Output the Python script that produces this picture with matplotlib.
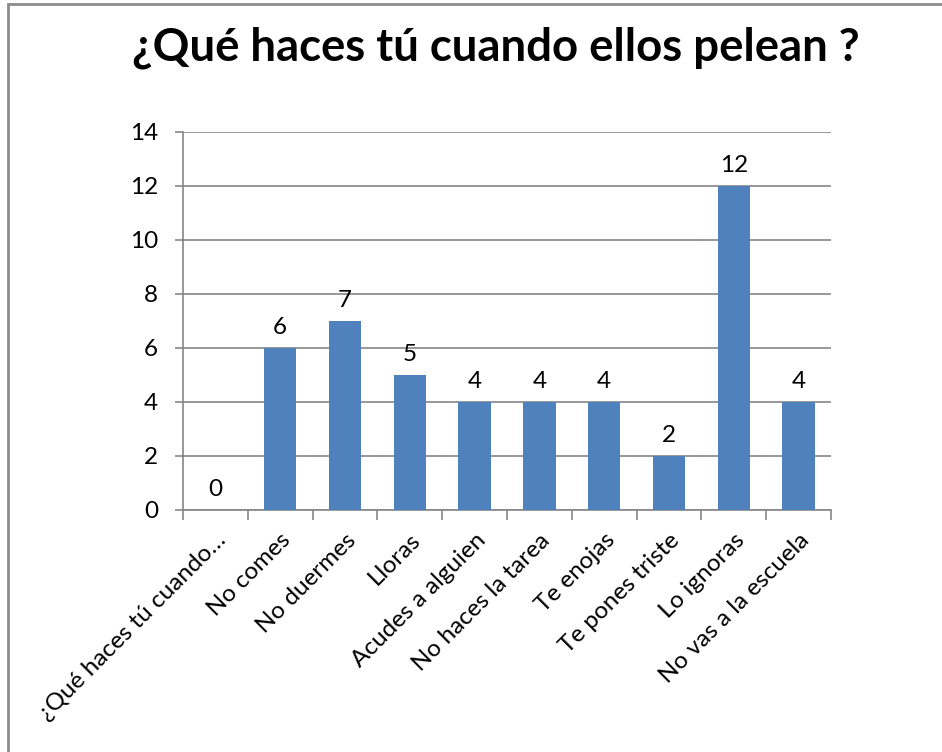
import numpy as np
import matplotlib.pyplot as plt
from matplotlib.patches import Rectangle

plt.rcParams['font.family'] = ['Lato', 'DejaVu Sans']

# Data
categories = [
    "¿Qué haces tú cuando…", "No comes", "No duermes", "Lloras", "Acudes a alguien",
    "No haces la tarea", "Te enojas", "Te pones triste", "Lo ignoras", "No vas a la escuela"
]
values = [0, 6, 7, 5, 4, 4, 4, 2, 12, 4]
yticks = [0, 2, 4, 6, 8, 10, 12, 14]

W, H = 942, 752
fig = plt.figure(figsize=(W / 100, H / 100), dpi=100)
ax = fig.add_axes([183 / W, 1 - 510 / H, (831 - 183) / W, (510 - 131.5) / H])

# outer border of the chart area
fig.patches.append(Rectangle((8 / W, -0.1), 1.2, 1 - 4 / H + 0.1, transform=fig.transFigure,
                             fill=False, edgecolor='#8c8c8c', linewidth=2))

grey = '#868686'
x = np.arange(len(categories))
ax.bar(x, values, width=0.5, color='#4f81bd', zorder=3)

for xi, v in zip(x, values):
    ax.annotate(str(v), (xi, v), xytext=(0, 7), textcoords='offset points',
                ha='center', va='bottom', fontsize=17.5)

ax.set_xlim(-0.5, len(categories) - 0.5)
ax.set_ylim(0, 14)
ax.set_yticks(yticks)
ax.tick_params(axis='y', labelsize=17.5, length=6, color=grey, width=1.2, pad=12)
ax.yaxis.grid(True, color=grey, linewidth=1.2, zorder=0)

ax.set_xticks(np.arange(len(categories) + 1) - 0.5, minor=False)
ax.set_xticklabels([])
ax.set_xticks(x, minor=True)
ax.set_xticklabels(categories, minor=True, rotation=45, ha='right', rotation_mode='anchor',
                   fontsize=17.5)
ax.tick_params(axis='x', which='major', length=7, color=grey, width=1.2)
ax.tick_params(axis='x', which='minor', length=0, pad=14)

for side in ['top', 'right']:
    ax.spines[side].set_visible(False)
for side in ['left', 'bottom']:
    ax.spines[side].set_color(grey)
    ax.spines[side].set_linewidth(1.2)

fig.text(496 / W, 1 - 48 / H, "¿Qué haces tú cuando ellos pelean ?", ha='center', va='center',
         fontsize=32.8, fontweight='bold')

fig.savefig('out.png', dpi=100)
